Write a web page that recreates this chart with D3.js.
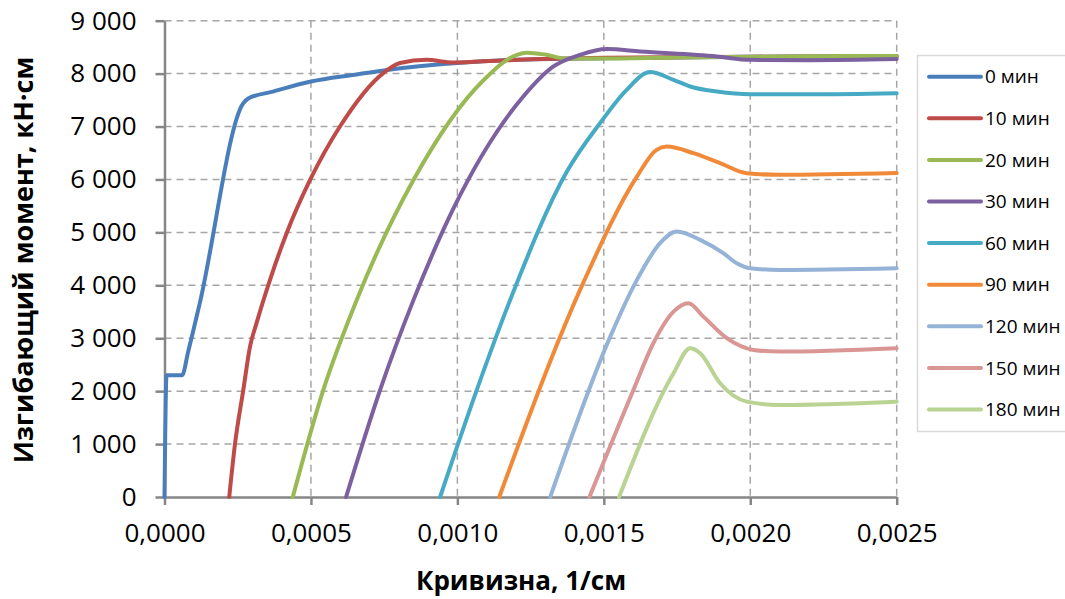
<!DOCTYPE html>
<html>
<head>
<meta charset="utf-8">
<script src="https://cdn.jsdelivr.net/npm/d3@7"></script>
<style>
  body { margin: 0; background: #fff; }
  svg { display: block; font-family: "Open Sans", sans-serif; }
</style>
</head>
<body>
<div id="chart"></div>
<script>
// curvature [1/cm], bending moment [kN·cm]
const t0 = [[0,0],[0.000007,2300],[0.00006,2300],[0.000081,2750],[0.00012,3650],[0.000269,7440],[0.000286,7530],[0.00037,7660],[0.0005,7850],[0.00065,7980],[0.00076,8070],[0.001,8200],[0.0012,8260],[0.0015,8290],[0.002,8320],[0.0025,8330]];
const t10 = [[0.000221,0],[0.000241,1015],[0.000269,2020],[0.000292,2840],[0.000315,3300],[0.00036,4100],[0.000417,4985],[0.000497,5990],[0.000599,7000],[0.000747,8010],[0.000804,8200],[0.000895,8260],[0.000986,8210],[0.00115,8250],[0.0015,8300],[0.002,8320],[0.0025,8330]];
const t20 = [[0.000438,0],[0.000542,2020],[0.000656,3720],[0.00085,5990],[0.00109,7880],[0.001203,8355],[0.001237,8395],[0.0013,8360],[0.00137,8285],[0.0015,8285],[0.0018,8310],[0.0025,8335]];
const t30 = [[0.00062,0],[0.000736,2020],[0.00085,3720],[0.00099,5490],[0.001225,7567],[0.001328,8135],[0.001419,8355],[0.00151,8463],[0.001624,8418],[0.001886,8324],[0.002,8260],[0.0022,8255],[0.0025,8275]];
const t60 = [[0.000941,0],[0.001066,2020],[0.00118,3720],[0.001374,6150],[0.001487,7064],[0.001578,7694],[0.001658,8030],[0.001738,7883],[0.001795,7757],[0.001886,7662],[0.002,7610],[0.0022,7610],[0.0025,7630]];
const t90 = [[0.001143,0],[0.00143,4050],[0.001613,6055],[0.00168,6560],[0.001715,6622],[0.001806,6497],[0.001897,6308],[0.001988,6119],[0.0021,6087],[0.0025,6120]];
const t120 = [[0.001317,0],[0.001522,3030],[0.001613,4102],[0.001692,4796],[0.001749,5016],[0.001829,4858],[0.001908,4607],[0.001954,4418],[0.002,4323],[0.0021,4291],[0.0025,4323]];
const t150 = [[0.001451,0],[0.001601,2022],[0.001669,2905],[0.001738,3503],[0.001789,3661],[0.00184,3408],[0.00192,3000],[0.002011,2779],[0.0021,2747],[0.0025,2811]];
const t180 = [[0.001552,0],[0.001738,2338],[0.001795,2811],[0.001829,2716],[0.001897,2149],[0.001988,1802],[0.0021,1739],[0.0025,1802]];

const seriesNames = ['0 мин', '10 мин', '20 мин', '30 мин', '60 мин', '90 мин', '120 мин', '150 мин', '180 мин'];
const seriesData = [t0, t10, t20, t30, t60, t90, t120, t150, t180];
const colors = ['#4A7EBB', '#BE4B48', '#98B954', '#7D60A0', '#46AAC5', '#F08A38', '#95B3D7', '#D99694', '#B9D393'];

const xTicks = [0, 0.0005, 0.001, 0.0015, 0.002, 0.0025];
const yTicks = [0, 1000, 2000, 3000, 4000, 5000, 6000, 7000, 8000, 9000];

const width = 1065;
const height = 599;
const plot = {left: 164.5, top: 20.7, right: 896.7, bottom: 497};

const svg = d3.select('#chart')
    .append('svg')
    .attr('width', width)
    .attr('height', height);

const x = d3.scaleLinear().domain([0, 0.0025]).range([plot.left, plot.right]);
const y = d3.scaleLinear().domain([0, 9000]).range([plot.bottom, plot.top]);

const fmtX = d => d.toFixed(4).replace('.', ',');
const fmtY = d => d3.format(',')(d).replace(/,/g, ' ');

// dashed grid
svg.append('g')
    .selectAll('line')
    .data(yTicks.filter(d => d > 0))
    .join('line')
    .attr('x1', plot.left).attr('x2', plot.right)
    .attr('y1', d => y(d)).attr('y2', d => y(d))
    .attr('stroke', '#a6a6a6')
    .attr('stroke-width', 1.5)
    .attr('stroke-dasharray', '7,5');

svg.append('g')
    .selectAll('line')
    .data(xTicks.filter(d => d > 0))
    .join('line')
    .attr('x1', d => x(d)).attr('x2', d => x(d))
    .attr('y1', plot.top).attr('y2', plot.bottom)
    .attr('stroke', '#a6a6a6')
    .attr('stroke-width', 1.5)
    .attr('stroke-dasharray', '7,5');

// axes
const xAxis = svg.append('g')
    .attr('transform', `translate(0,${plot.bottom})`)
    .call(d3.axisBottom(x).tickValues(xTicks).tickFormat(fmtX).tickSize(8).tickSizeOuter(0).tickPadding(19));

const yAxis = svg.append('g')
    .attr('transform', `translate(${plot.left},0)`)
    .call(d3.axisLeft(y).tickValues(yTicks).tickFormat(fmtY).tickSize(9).tickSizeOuter(0).tickPadding(19));

[xAxis, yAxis].forEach(a => {
    a.select('.domain').attr('stroke', '#868686').attr('stroke-width', 2.5);
    a.selectAll('.tick line').attr('stroke', '#868686').attr('stroke-width', 2.5);
    a.selectAll('.tick text')
        .attr('fill', '#000')
        .style('font-size', '26px')
        .style('font-family', '"Open Sans", sans-serif');
});

// series
const line = d3.line()
    .x(d => x(d[0]))
    .y(d => y(d[1]))
    .curve(d3.curveMonotoneX);

svg.append('g')
    .selectAll('path')
    .data(seriesData)
    .join('path')
    .attr('d', line)
    .attr('fill', 'none')
    .attr('stroke', (d, i) => colors[i])
    .attr('stroke-width', 4)
    .attr('stroke-linejoin', 'round')
    .attr('stroke-linecap', 'round');

// axis titles
svg.append('text')
    .attr('x', 521)
    .attr('y', 590)
    .attr('text-anchor', 'middle')
    .style('font-size', '26px')
    .style('font-weight', 'bold')
    .text('Кривизна, 1/см');

svg.append('text')
    .attr('transform', 'translate(33,260) rotate(-90)')
    .attr('text-anchor', 'middle')
    .style('font-size', '27px')
    .style('font-weight', 'bold')
    .text('Изгибающий момент, кН·см');

// legend
const legend = svg.append('g');
legend.append('rect')
    .attr('x', 917.5).attr('y', 55.5)
    .attr('width', 160).attr('height', 376)
    .attr('fill', '#fff')
    .attr('stroke', '#d9d9d9')
    .attr('stroke-width', 1.5);

const items = legend.selectAll('.item')
    .data(seriesNames)
    .join('g')
    .attr('class', 'item')
    .attr('transform', (d, i) => `translate(0,${76.7 + i * 41.6})`);

items.append('line')
    .attr('x1', 929).attr('x2', 981)
    .attr('stroke', (d, i) => colors[i])
    .attr('stroke-width', 4)
    .attr('stroke-linecap', 'round');

items.append('text')
    .attr('x', 985)
    .attr('dy', '0.35em')
    .style('font-size', '19px')
    .text(d => d);
</script>
</body>
</html>
